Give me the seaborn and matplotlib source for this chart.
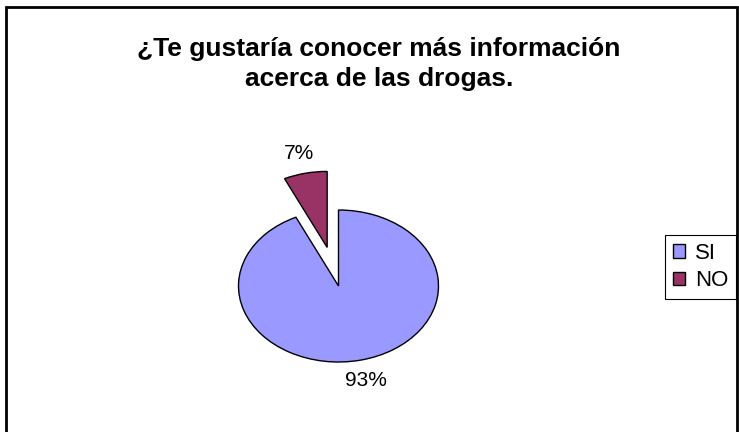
import numpy as np
import matplotlib
matplotlib.use("Agg")
import matplotlib.pyplot as plt
import seaborn as sns
from matplotlib.patches import Rectangle

# Datos del gráfico
categorias = ["SI", "NO"]
porcentajes = [93, 7]
colores = ["#9999FF", "#993366"]
titulo = "¿Te gustaría conocer más información\nacerca de las drogas."

sns.set_style("white")
plt.rcParams['font.family'] = ['Liberation Sans', 'DejaVu Sans']
plt.rcParams['text.color'] = 'black'

fig = plt.figure(figsize=(7.39, 4.32), dpi=100)

# Eje de la torta (elíptica: 1 unidad = 100 px en x, 76 px en y)
ax = fig.add_axes([(338.5 - 200) / 739, (432 - 286 - 114) / 432, 400 / 739, 228 / 432])
wedges, textos, autotextos = ax.pie(
    porcentajes,
    labels=None,
    colors=colores,
    startangle=90,
    counterclock=False,
    explode=[0, 0.52],
    autopct='%1.0f%%',
    pctdistance=1.27,
    wedgeprops=dict(edgecolor='black', linewidth=1.0),
    textprops=dict(fontsize=15, color='black'),
)
ax.set_aspect('auto')
ax.set_xlim(-2, 2)
ax.set_ylim(-1.5, 1.5)
ax.axis('off')

# Título
fig.text(379 / 739, 1 - 64 / 432, titulo, ha='center', va='center',
         fontsize=19, fontweight='bold', linespacing=1.3, color='black')

# Leyenda
leg = fig.legend(wedges, categorias, loc='upper left',
                 bbox_to_anchor=(665 / 739, 1 - 235 / 432),
                 frameon=True, fancybox=False, fontsize=16,
                 handlelength=0.55, handleheight=0.55, handletextpad=0.45,
                 borderpad=0.35, labelspacing=0.3, borderaxespad=0)
leg.get_frame().set_edgecolor('black')
leg.get_frame().set_linewidth(0.8)
leg.get_frame().set_alpha(1)
for t in leg.get_texts():
    t.set_color('black')

# Marco del gráfico
fig.patches.append(Rectangle((6 / 739, -0.1), 731 / 739, 1.1 - 7 / 432,
                             transform=fig.transFigure, fill=False,
                             edgecolor='black', linewidth=2, zorder=0))

fig.savefig("out.png", dpi=100)
